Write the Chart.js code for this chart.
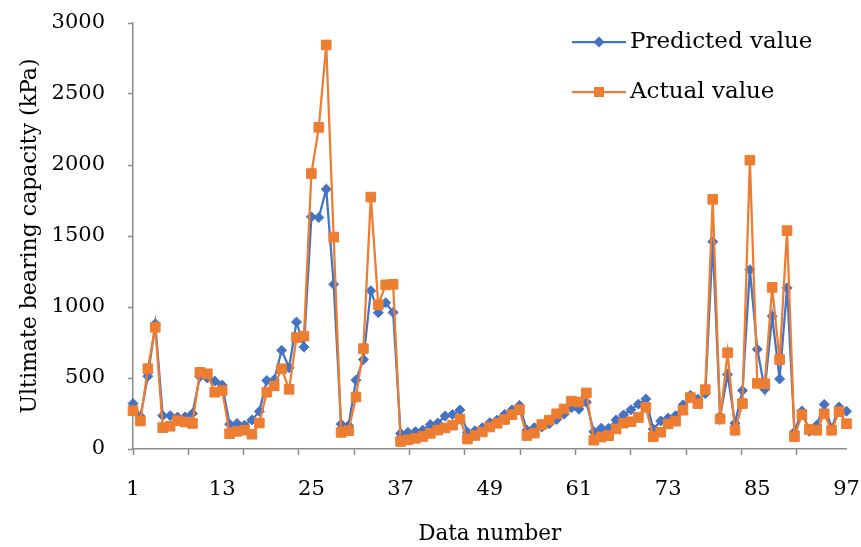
<!DOCTYPE html>
<html><head><meta charset="utf-8">
<script src="https://cdn.jsdelivr.net/npm/chart.js@4.4.0/dist/chart.umd.min.js"></script>
<style>html,body{margin:0;padding:0;background:#fff;}#wrap{width:861px;height:547px;position:relative;}</style>
</head><body><div id="wrap"><canvas id="c" width="861" height="547"></canvas></div>
<script>
const dataNumber = [1,2,3,4,5,6,7,8,9,10,11,12,13,14,15,16,17,18,19,20,21,22,23,24,25,26,27,28,29,30,31,32,33,34,35,36,37,38,39,40,41,42,43,44,45,46,47,48,49,50,51,52,53,54,55,56,57,58,59,60,61,62,63,64,65,66,67,68,69,70,71,72,73,74,75,76,77,78,79,80,81,82,83,84,85,86,87,88,89,90,91,92,93,94,95,96,97];
const predictedValue = [320,230,512,882,235,235,225,225,250,510,500,478,450,175,180,168,205,265,482,488,695,572,894,718,1635,1630,1830,1160,175,165,485,630,1115,960,1030,962,110,117,122,132,172,183,232,243,275,118,128,150,185,204,244,275,307,133,150,155,178,208,245,290,280,330,122,147,146,205,240,277,316,352,140,198,218,234,310,378,350,390,1460,230,525,182,412,1262,702,420,935,493,1135,120,268,125,168,314,146,296,266];
const actualValue = [270,197,566,857,150,160,200,190,180,540,530,400,412,108,124,133,104,183,400,444,565,420,785,795,1940,2265,2845,1492,117,129,366,707,1774,1015,1156,1160,53,65,75,88,110,133,148,168,210,70,95,120,155,181,208,242,277,95,112,172,203,248,282,337,331,395,62,84,94,141,182,192,222,293,86,118,177,196,273,362,320,418,1758,211,678,132,320,2034,462,460,1138,630,1538,87,242,138,132,248,132,263,178];
const xTickLabels = [1,13,25,37,49,61,73,85,97];
const yTickValues = [0,500,1000,1500,2000,2500,3000];
const seriesNames = ['Predicted value','Actual value'];
const xTitle = 'Data number';
const yTitle = 'Ultimate bearing capacity (kPa)';

const BLUE = '#4472C4', ORANGE = '#ED7D31', AXIS = '#8C8C8C', FONT = 'DejaVu Serif';
const MARK_STEP = 7.443; // spacing of x tick marks (styling)

const legendPlugin = {
  id: 'insideLegend',
  afterDraw(chart) {
    const ctx = chart.ctx;
    const items = [
      {name: seriesNames[0], color: BLUE, style: 'diamond', y: 42},
      {name: seriesNames[1], color: ORANGE, style: 'square', y: 92}
    ];
    ctx.save();
    items.forEach(it => {
      ctx.strokeStyle = it.color; ctx.lineWidth = 2.25;
      ctx.beginPath(); ctx.moveTo(572, it.y); ctx.lineTo(626, it.y); ctx.stroke();
      ctx.fillStyle = it.color;
      ctx.beginPath();
      const cx = 599;
      if (it.style === 'diamond') {
        ctx.moveTo(cx, it.y - 5.5); ctx.lineTo(cx + 5.5, it.y); ctx.lineTo(cx, it.y + 5.5); ctx.lineTo(cx - 5.5, it.y); ctx.closePath();
      } else {
        ctx.rect(cx - 5, it.y - 5, 10, 10);
      }
      ctx.fill();
      ctx.fillStyle = '#000';
      ctx.font = '23px "' + FONT + '"';
      ctx.textBaseline = 'middle'; ctx.textAlign = 'left';
      ctx.fillText(it.name, 630, it.y);
    });
    ctx.restore();
  }
};

const isLabelTick = v => xTickLabels.includes(v);

new Chart(document.getElementById('c'), {
  type: 'line',
  data: {
    datasets: [
      {label: seriesNames[0], data: dataNumber.map((n, i) => ({x: n, y: predictedValue[i]})),
       borderColor: BLUE, backgroundColor: BLUE, borderWidth: 2.25, pointStyle: 'rectRot', pointRadius: 5,
       pointBorderWidth: 1, pointBackgroundColor: BLUE, pointBorderColor: BLUE, tension: 0, order: 1, clip: false},
      {label: seriesNames[1], data: dataNumber.map((n, i) => ({x: n, y: actualValue[i]})),
       borderColor: ORANGE, backgroundColor: ORANGE, borderWidth: 2.25, pointStyle: 'rect', pointRadius: 6.8,
       pointBorderWidth: 1, pointBackgroundColor: ORANGE, pointBorderColor: ORANGE, tension: 0, order: 0, clip: false}
    ]
  },
  options: {
    responsive: false, animation: false, devicePixelRatio: 1,
    layout: {padding: {top: 23, right: 14.5, bottom: 0, left: 0}},
    plugins: {legend: {display: false}, tooltip: {enabled: false}},
    scales: {
      x: {
        type: 'linear', min: dataNumber[0], max: dataNumber[dataNumber.length - 1], position: 'bottom',
        afterBuildTicks: axis => {
          const vals = new Set(xTickLabels);
          for (let k = 0; 1 + k * MARK_STEP <= 97; k++) vals.add(+(1 + k * MARK_STEP).toFixed(4));
          axis.ticks = [...vals].sort((a, b) => a - b).map(v => ({value: v}));
        },
        afterFit: axis => { axis.height = 98; axis.paddingRight = 0; axis.paddingLeft = 0; },
        ticks: {autoSkip: false, maxRotation: 0, minRotation: 0, color: '#000', padding: 22,
          font: {family: FONT, size: 21}, callback: v => isLabelTick(v) ? String(v) : ''},
        grid: {display: true, drawOnChartArea: false, drawTicks: true, tickLength: 6, tickWidth: 1.5,
          tickColor: c => (c.tick && (!isLabelTick(c.tick.value) || c.tick.value === 1)) ? AXIS : 'rgba(0,0,0,0)'},
        border: {display: true, color: AXIS, width: 1.5},
        title: {display: true, text: xTitle, color: '#000', font: {family: FONT, size: 21.5}, padding: {top: 0, bottom: 0}}
      },
      y: {
        type: 'linear', min: 0, max: 3000,
        afterBuildTicks: axis => { axis.ticks = yTickValues.map(v => ({value: v})); },
        afterFit: axis => { axis.width = 133; axis.paddingTop = 0; axis.paddingBottom = 0; },
        ticks: {color: '#000', padding: 23, font: {family: FONT, size: 21}, callback: v => String(v)},
        grid: {display: true, drawOnChartArea: false, drawTicks: true, tickLength: 5, tickWidth: 1.5, tickColor: AXIS},
        border: {display: true, color: AXIS, width: 1.5},
        title: {display: true, text: yTitle, color: '#000', font: {family: FONT, size: 22}, padding: {top: 17, bottom: 0}}
      }
    }
  },
  plugins: [legendPlugin]
});
</script></body></html>
